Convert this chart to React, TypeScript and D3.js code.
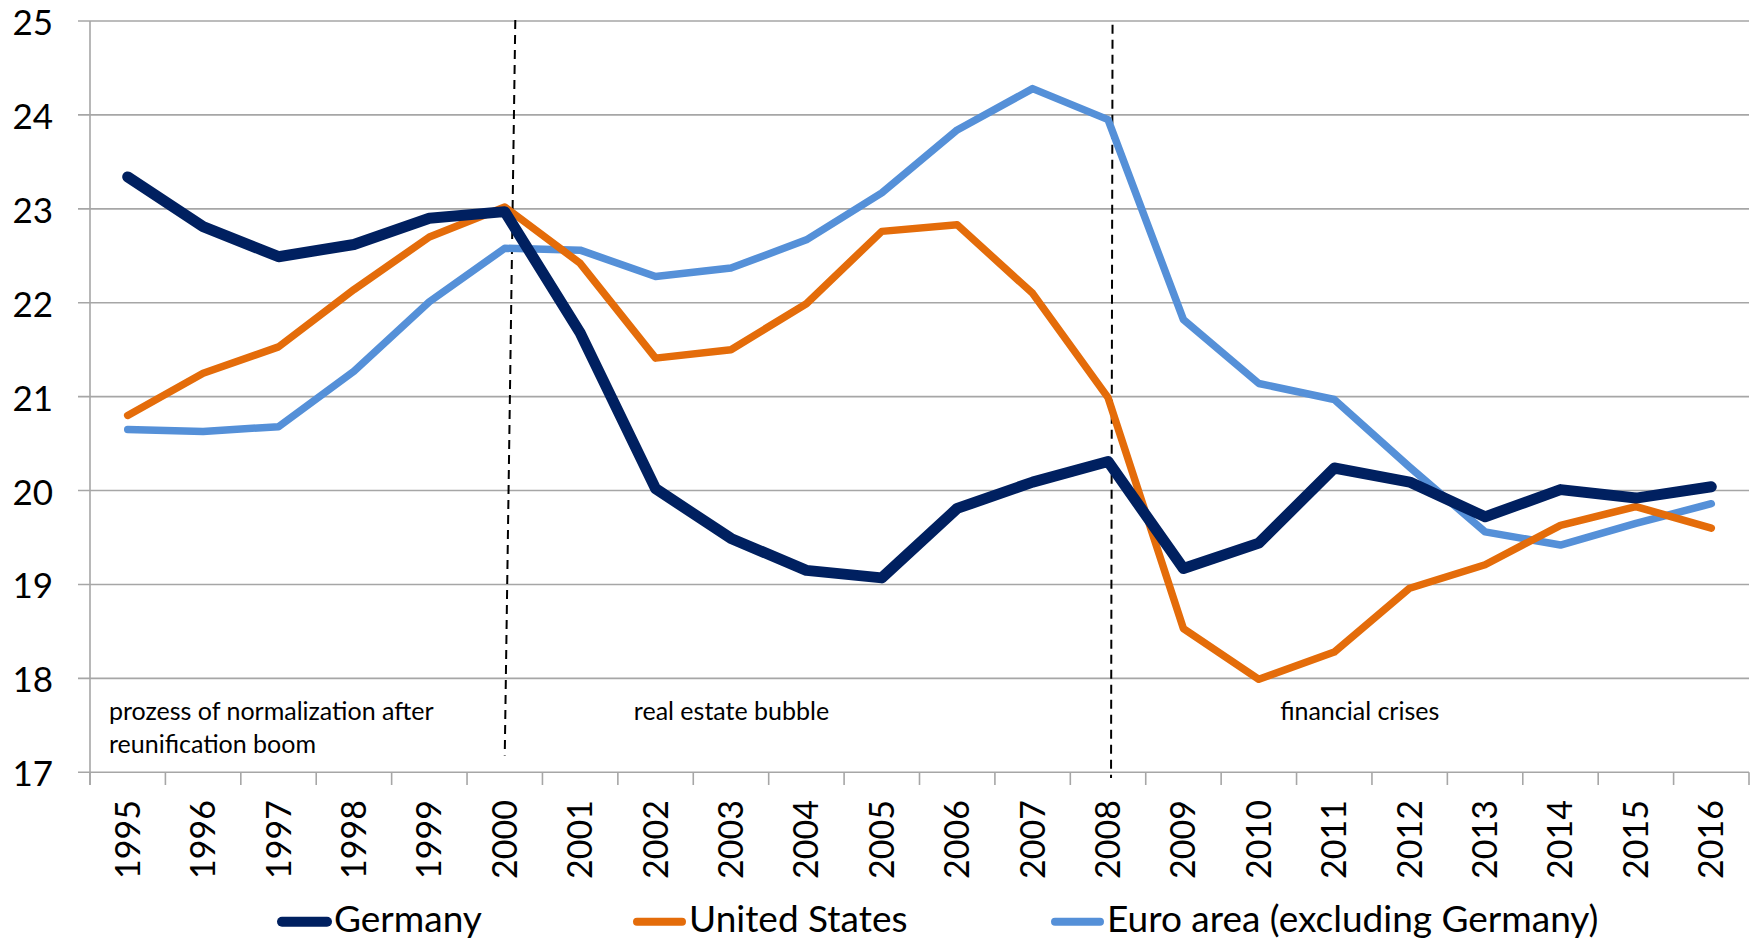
import React from "react";
import * as d3 from "d3";

const years = ["1995","1996","1997","1998","1999","2000","2001","2002","2003","2004","2005","2006","2007","2008","2009","2010","2011","2012","2013","2014","2015","2016"];
const germany = [23.34,22.81,22.49,22.62,22.9,22.97,21.68,20.02,19.49,19.15,19.07,19.81,20.09,20.31,19.17,19.44,20.24,20.09,19.72,20.01,19.92,20.04];
const unitedStates = [20.8,21.25,21.53,22.14,22.7,23.02,22.42,21.41,21.5,21.99,22.76,22.83,22.1,20.99,18.53,17.99,18.28,18.96,19.21,19.63,19.83,19.6];
const euroArea = [20.65,20.63,20.68,21.27,22.01,22.58,22.56,22.28,22.37,22.67,23.17,23.84,24.28,23.95,21.82,21.14,20.97,20.25,19.56,19.42,19.65,19.86];
const yTicks = [17,18,19,20,21,22,23,24,25];

const seriesNames = ["Germany", "United States", "Euro area (excluding Germany)"];
const seriesColors = ["#002060", "#E46C0A", "#5590D8"];
const seriesWidths = [11, 7.5, 7.5];

// dashed dividers: year, top value, bottom value, shift (in bands) at top and bottom
const dividerYears = ["2000", "2008"];
const dividerTop = [25.01, 24.96];
const dividerBottom = [17.18, 16.94];
const dividerTopShift = [0.14, 0.06];
const dividerBottomShift = [0.0, 0.04];

const phaseLabels = [["prozess of normalization after", "reunification boom"], ["real estate bubble"], ["financial crises"]];
const phaseYears = ["1995", "2002", "2010"];
const phaseOffsets = [19, 16, 59];

const W = 1753, H = 942;
const FONT = "Lato, 'Open Sans', sans-serif";

export default function App() {
  const x = d3.scaleBand<string>().domain(years).range([90, 1749]).padding(0);
  const bw = x.bandwidth();
  const cx = (yr: string) => (x(yr) as number) + bw / 2;
  const y = d3.scaleLinear().domain([17, 25]).range([772.3, 21]);

  const series = [germany, unitedStates, euroArea];
  const line = d3.line<number>().x((_, i) => cx(years[i])).y((v) => y(v));

  const boundaries = years.map((yr) => x(yr) as number).concat([1749]);

  const legendLineStart = [277, 632, 1050];
  const legendY = 921.7;

  return (
    <svg width={W} height={H} style={{ position: "absolute", left: 0, top: 0, background: "#fff" }} fontFamily={FONT}>
      <rect x={0} y={0} width={W} height={H} fill="#fff" />
      {yTicks.map((t) => (
        <line key={"g" + t} x1={78} x2={1749} y1={y(t)} y2={y(t)} stroke="#a6a6a6" strokeWidth={1.6} />
      ))}
      <line x1={90} x2={90} y1={y(25)} y2={785} stroke="#a6a6a6" strokeWidth={1.6} />
      {boundaries.map((bx, i) => (
        <line key={"t" + i} x1={bx} x2={bx} y1={y(17)} y2={785} stroke="#a6a6a6" strokeWidth={1.6} />
      ))}
      {yTicks.map((t) => (
        <text key={"yl" + t} x={53} y={y(t)} textAnchor="end" dominantBaseline="central" fontSize={35} fill="#000">
          {t}
        </text>
      ))}
      {years.map((yr) => (
        <text
          key={"xl" + yr}
          transform={`translate(${cx(yr) + 12},800) rotate(-90)`}
          textAnchor="end"
          fontSize={34}
          fill="#000"
        >
          {yr}
        </text>
      ))}
      {dividerYears.map((yr, i) => (
        <line
          key={"d" + yr}
          x1={cx(yr) + dividerTopShift[i] * bw}
          x2={cx(yr) + dividerBottomShift[i] * bw}
          y1={y(dividerTop[i])}
          y2={y(dividerBottom[i])}
          stroke="#000"
          strokeWidth={2}
          strokeDasharray="9,6"
        />
      ))}
      {phaseLabels.map((lines, i) => (
        <text key={"p" + i} fontSize={25} fill="#000">
          {lines.map((l, j) => (
            <tspan key={j} x={(x(phaseYears[i]) as number) + phaseOffsets[i]} y={y(17.56) + j * 33}>
              {l}
            </tspan>
          ))}
        </text>
      ))}
      {[2, 1, 0].map((si) => (
        <path
          key={"s" + si}
          d={line(series[si]) || ""}
          fill="none"
          stroke={seriesColors[si]}
          strokeWidth={seriesWidths[si]}
          strokeLinejoin="round"
          strokeLinecap="round"
        />
      ))}
      {seriesNames.map((n, i) => (
        <g key={"lg" + i}>
          <line
            x1={legendLineStart[i] + 5}
            x2={legendLineStart[i] + 50}
            y1={legendY}
            y2={legendY}
            stroke={seriesColors[i]}
            strokeWidth={i === 0 ? 10 : 8}
            strokeLinecap="round"
          />
          <text x={legendLineStart[i] + 57} y={932} fontSize={37} fill="#000">
            {n}
          </text>
        </g>
      ))}
    </svg>
  );
}
